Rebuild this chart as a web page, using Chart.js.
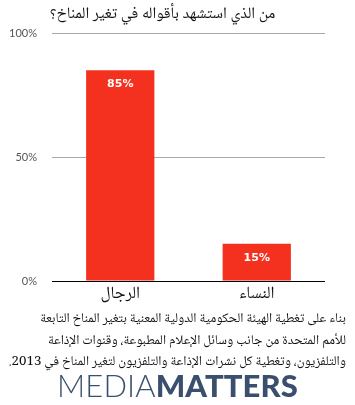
<!DOCTYPE html>
<html>
<head>
<meta charset="utf-8">
<script src="https://cdn.jsdelivr.net/npm/chart.js@4"></script>
<style>
  html, body { margin: 0; padding: 0; background: #fff; }
  body { width: 355px; height: 405px; position: relative; overflow: hidden; }
  #chartBox { position: absolute; left: 0; top: 0; width: 355px; height: 310px; }
  .note {
    position: absolute; right: 9px; top: 309px;
    direction: rtl; text-align: right; white-space: nowrap;
    font-family: "Noto Naskh Arabic", "Noto Sans Arabic", "DejaVu Sans", sans-serif; font-size: 13.3px; line-height: 21.5px; color: #111;
  }
  .logo {
    position: absolute; left: 0; width: 355px; top: 366px; text-align: center;
    font-family: Lato, sans-serif; font-size: 31px; color: #3a4f6e; letter-spacing: 0.1px;
  }
  .logo .light { font-weight: 300; }
  .logo .bold { font-weight: 900; }
</style>
</head>
<body>
<div id="chartBox"><canvas id="myChart"></canvas></div>
<div class="note">بناء على تغطية الهيئة الحكومية الدولية المعنية بتغير المناخ التابعة<br>للأمم المتحدة من جانب وسائل الإعلام المطبوعة، وقنوات الإذاعة<br>والتلفزيون، وتغطية كل نشرات الإذاعة والتلفزيون لتغير المناخ في 2013.</div>
<div class="logo"><span class="light">MEDIA</span><span class="bold">MATTERS</span></div>
<script>
const chartTitle = "من الذي استشهد بأقواله في تغير المناخ؟";
const categories = ["الرجال", "النساء"];
const shares = [85, 15];
const yTicks = [0, 50, 100];

const arabicFont = "Noto Naskh Arabic, Noto Sans Arabic, DejaVu Sans";

// write the value in white near the top of each bar
const barLabels = {
  id: "barLabels",
  afterDatasetsDraw(chart) {
    const ctx = chart.ctx;
    const meta = chart.getDatasetMeta(0);
    ctx.save();
    ctx.fillStyle = "#fff";
    ctx.font = "bold 11px 'DejaVu Sans', sans-serif";
    ctx.textAlign = "center";
    ctx.textBaseline = "middle";
    meta.data.forEach((bar, i) => {
      ctx.fillText(shares[i] + "%", bar.x, bar.y + 14);
    });
    ctx.restore();
  },
};

new Chart(document.getElementById("myChart"), {
  type: "bar",
  data: {
    labels: categories,
    datasets: [
      {
        data: shares,
        backgroundColor: "#f3311e",
        borderWidth: 0,
        barPercentage: 0.5,
        categoryPercentage: 1,
      },
    ],
  },
  options: {
    responsive: true,
    maintainAspectRatio: false,
    animation: false,
    layout: { padding: { left: 0, right: 30, top: 0, bottom: 0 } },
    plugins: {
      legend: { display: false },
      tooltip: { enabled: false },
      title: {
        display: true,
        text: chartTitle,
        color: "#111",
        font: { family: arabicFont, size: 16, weight: "normal" },
        padding: { top: 6, bottom: 8 },
      },
    },
    scales: {
      x: {
        grid: { display: false, drawTicks: false },
        border: { display: false },
        afterFit: (axis) => {
          axis.height = 29;
        },
        ticks: {
          color: "#111",
          font: { family: arabicFont, size: 17 },
          padding: 5,
        },
      },
      y: {
        min: 0,
        max: 100,
        afterBuildTicks: (axis) => {
          axis.ticks = yTicks.map((v) => ({ value: v }));
        },
        afterFit: (axis) => {
          axis.width = 52;
        },
        border: { display: false },
        grid: {
          drawTicks: false,
          color: (c) => (c.tick && c.tick.value === 0 ? "#000" : "#a8a8a8"),
          lineWidth: 1,
        },
        ticks: {
          color: "#555",
          font: { family: "Lato", size: 11 },
          padding: 15,
          callback: (v) => v + "%",
        },
      },
    },
  },
  plugins: [barLabels],
});
</script>
</body>
</html>
